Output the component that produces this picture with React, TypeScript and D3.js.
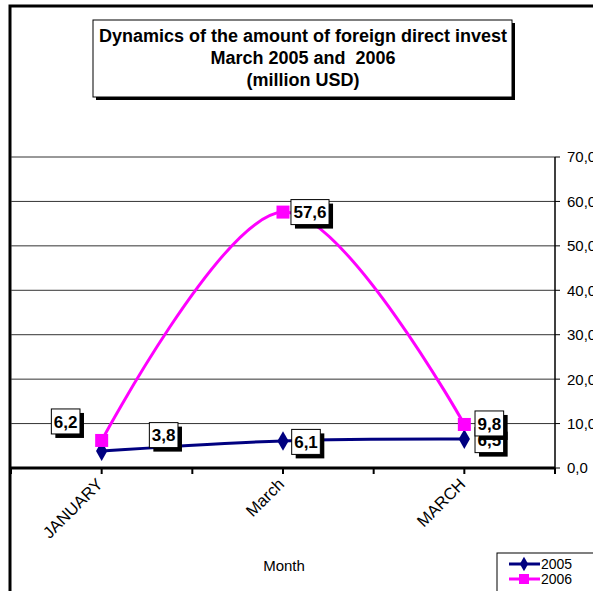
import { useEffect } from 'react';
import * as d3 from 'd3';

const months = ['JANUARY', 'March', 'MARCH'];
const values2005 = [3.8, 6.1, 6.5];
const values2006 = [6.2, 57.6, 9.8];
const yTicks = [0, 10, 20, 30, 40, 50, 60, 70];
const titleLines = ['Dynamics of the amount of foreign direct invest', 'March 2005 and  2006', '(million USD)'];

// label placement relative to its point (Excel moved these by hand)
const labelOffsets2005 = [[62, -16], [23, 1], [25, 1]];
const labelOffsets2006 = [[-36, -19], [27, 0], [25, -1]];

const FONT = 'Liberation Sans, Arial, sans-serif';
const NAVY = '#000080';
const PINK = '#FF00FF';
const LABEL_FS = 17;

function textWidth(s: string, fs: number) {
  let w = 0;
  for (const c of s) w += c === ',' ? 0.278 : 0.556;
  return w * fs;
}

function DataLabel({ x, y, text }: { x: number; y: number; text: string }) {
  const w = textWidth(text, LABEL_FS) + 5;
  const h = 25;
  return (
    <g transform={`translate(${x},${y})`}>
      <rect x={-w / 2 + 4} y={-h / 2 + 4} width={w} height={h} fill="#000" />
      <rect x={-w / 2} y={-h / 2} width={w} height={h} fill="#fff" stroke="#000" strokeWidth={1} />
      <text textAnchor="middle" dy="0.36em" fontFamily={FONT} fontWeight="bold" fontSize={LABEL_FS}>{text}</text>
    </g>
  );
}

export default function App() {
  useEffect(() => {
    document.body.style.margin = '0';
  }, []);

  const width = 593;
  const height = 591;
  const plot = { left: 11, right: 555, top: 157, bottom: 468 };

  const x = d3.scaleBand().domain(months).range([plot.left, plot.right]);
  const cx = (m: string) => (x(m) as number) + x.bandwidth() / 2;
  const y = d3.scaleLinear().domain([0, 70]).range([plot.bottom, plot.top]);

  const line = d3.line<number>()
    .x((_, i) => cx(months[i]))
    .y(d => y(d))
    .curve(d3.curveCardinal.tension(0));

  const fmt = (v: number) => v.toFixed(1).replace('.', ',');

  const xTicks: number[] = [];
  months.forEach(m => {
    xTicks.push(x(m) as number);
    xTicks.push(cx(m));
  });
  xTicks.push(plot.right);

  return (
    <svg width={width} height={height} style={{ display: 'block' }} fontFamily={FONT}>
      <rect width={width} height={height} fill="#fff" />
      {/* chart area border */}
      <rect x={10} y={6} width={620} height={620} fill="none" stroke="#000" strokeWidth={3} />

      {/* title */}
      <rect x={96} y={23} width={419} height={77} fill="#000" />
      <rect x={93} y={20} width={419} height={77} fill="#fff" stroke="#000" strokeWidth={1} />
      {titleLines.map((t, i) => (
        <text key={i} x={303} y={42 + i * 22} textAnchor="middle" fontWeight="bold" fontSize={18}
          style={{ whiteSpace: 'pre' }}>{t}</text>
      ))}

      {/* gridlines */}
      {yTicks.filter(t => t > 0).map(t => (
        <line key={t} x1={plot.left} x2={plot.right} y1={y(t)} y2={y(t)} stroke="#333" strokeWidth={1} />
      ))}

      {/* right value axis, labels run past the edge like the original */}
      <line x1={plot.right} x2={plot.right} y1={plot.top} y2={plot.bottom} stroke="#000" strokeWidth={1.5} />
      {yTicks.map(t => (
        <g key={t}>
          <line x1={plot.right} x2={plot.right + 5} y1={y(t)} y2={y(t)} stroke="#000" strokeWidth={1} />
          <text x={plot.right + 12} y={y(t)} dy="0.36em" fontSize={15}>{fmt(t)}</text>
        </g>
      ))}

      {/* category axis */}
      <line x1={plot.left} x2={plot.right} y1={plot.bottom} y2={plot.bottom} stroke="#000" strokeWidth={3} />
      {xTicks.map((t, i) => (
        <line key={i} x1={t} x2={t} y1={plot.bottom} y2={plot.bottom + 6} stroke="#000" strokeWidth={2} />
      ))}
      {months.map(m => (
        <text key={m} transform={`translate(${cx(m) - 2},${plot.bottom + 13}) rotate(-45)`}
          textAnchor="end" dy="0.36em" fontSize={16.5}>{m}</text>
      ))}
      <text x={284} y={571} textAnchor="middle" fontSize={15}>Month</text>

      {/* series */}
      <path d={line(values2005) ?? ''} fill="none" stroke={NAVY} strokeWidth={3} />
      <path d={line(values2006) ?? ''} fill="none" stroke={PINK} strokeWidth={3} />
      {values2005.map((v, i) => (
        <path key={i} d={d3.symbol(d3.symbolDiamond, 110)() ?? ''}
          transform={`translate(${cx(months[i])},${y(v)})`} fill={NAVY} />
      ))}
      {values2006.map((v, i) => (
        <rect key={i} x={cx(months[i]) - 6.5} y={y(v) - 6.5} width={13} height={13} fill={PINK} />
      ))}

      {/* data labels */}
      {values2005.map((v, i) => (
        <DataLabel key={'a' + i} x={cx(months[i]) + labelOffsets2005[i][0]} y={y(v) + labelOffsets2005[i][1]} text={fmt(v)} />
      ))}
      {values2006.map((v, i) => (
        <DataLabel key={'b' + i} x={cx(months[i]) + labelOffsets2006[i][0]} y={y(v) + labelOffsets2006[i][1]} text={fmt(v)} />
      ))}

      {/* legend */}
      <rect x={497} y={553} width={110} height={45} fill="#fff" stroke="#000" strokeWidth={1} />
      {[['2005', NAVY], ['2006', PINK]].map(([name, color], i) => {
        const ly = 564 + i * 15;
        return (
          <g key={name}>
            <line x1={509} x2={540} y1={ly} y2={ly} stroke={color} strokeWidth={3} />
            {i === 0
              ? <path d={d3.symbol(d3.symbolDiamond, 60)() ?? ''} transform={`translate(524,${ly})`} fill={color} />
              : <rect x={519} y={ly - 5} width={10} height={10} fill={color} />}
            <text x={541} y={ly} dy="0.36em" fontSize={14}>{name}</text>
          </g>
        );
      })}
    </svg>
  );
}
